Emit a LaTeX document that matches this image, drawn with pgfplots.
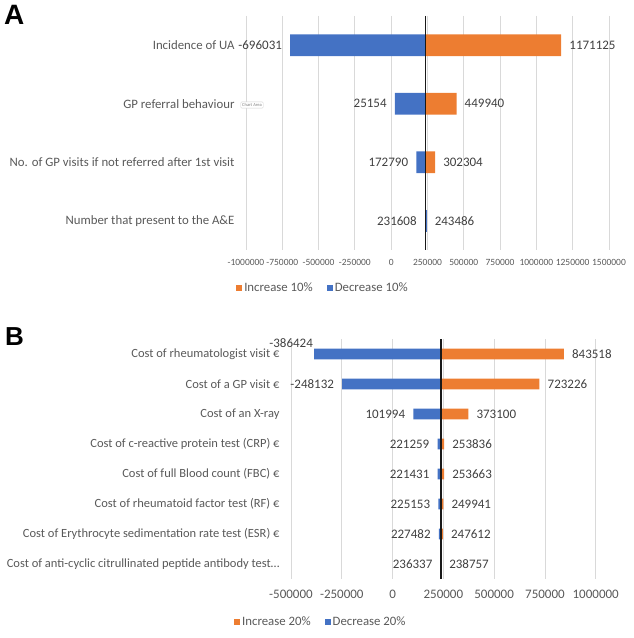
\documentclass[border=0pt]{standalone}
\usepackage{pgfplots}
\pgfplotsset{compat=1.18}
\usepackage{fontspec}
\setmainfont{Carlito}
\newfontfamily\letterfont{Liberation Sans}
\definecolor{incr}{RGB}{237,125,49}
\definecolor{decr}{RGB}{68,114,196}
\definecolor{txt}{RGB}{89,89,89}
\definecolor{lbl}{RGB}{64,64,64}
\definecolor{grd}{RGB}{217,217,217}

% base case of the model: bars start here, the black line sits here
\def\basecase{237547}
\def\shiftby#1#2{\begingroup
  \pgfkeys{/pgf/fpu=true,/pgf/fpu/output format=sci}%
  \pgfmathparse{#1}\global\let\shiftres\pgfmathresult\endgroup
  \let\pgfmathresult\shiftres}

\pgfplotsset{
  tornado/.style={
    scale only axis,
    anchor=north west,
    clip=false,
    y dir=reverse,
    axis line style={draw=none},
    major tick length=0pt,
    tick style={draw=none},
    scaled x ticks=false,
    xmajorgrids,
    grid style={grd, line width=0.8pt},
    /pgf/number format/assume math mode=true,
    yticklabel style={text=txt, xshift=-8pt},
    xticklabel style={text=txt},
    legend style={draw=none, fill=none, legend columns=2, text=txt,
      /tikz/every even column/.append style={column sep=12pt}},
    legend image code/.code={\fill[##1, draw=none] (0pt,-3pt) rectangle (6pt,3pt);},
    x coord trafo/.code={\shiftby{##1-\basecase}{}},
    x coord inv trafo/.code={\shiftby{##1+\basecase}{}},
  },
  rbar/.style={xbar, bar shift=0pt, draw=none, point meta=explicit symbolic,
    nodes near coords, nodes near coords style={anchor=west, xshift=7pt, text=lbl, inner sep=1pt}},
  lbar/.style={xbar, bar shift=0pt, draw=none, point meta=explicit symbolic,
    nodes near coords, nodes near coords style={anchor=east, xshift=-7pt, text=lbl, inner sep=1pt}},
}

\begin{document}
\begin{tikzpicture}
\useasboundingbox (0,0) rectangle (633pt,638pt);

% ---------------- A ----------------
\node[anchor=base west, inner sep=0pt] at (4pt,613pt) {\letterfont\bfseries\fontsize{28}{30}\selectfont A};
\begin{axis}[tornado,
    at={(246pt,622pt)}, width=363pt, height=234pt,
    xmin=-1000000, xmax=1500000, ymin=0.5, ymax=4.5,
    xtick={-1000000,-750000,-500000,-250000,0,250000,500000,750000,1000000,1250000,1500000},
    xticklabels={-1000000,-750000,-500000,-250000,0,250000,500000,750000,1000000,1250000,1500000},
    xticklabel style={font=\fontsize{9.5}{11}\selectfont, yshift=-6pt},
    ytick={1,2,3,4},
    yticklabels={Incidence of UA, GP referral behaviour, No. of GP visits if not referred after 1st visit, Number that present to the A\&E},
    yticklabel style={font=\fontsize{12.8}{14}\selectfont},
    legend style={at={(0.212,-0.162)}, anchor=center, font=\fontsize{12.8}{14}\selectfont},
    every node near coord/.append style={font=\fontsize{13}{15}\selectfont},
  ]
  \addlegendimage{fill=incr}
  \addlegendentry{Increase 10\%}
  \addlegendimage{fill=decr}
  \addlegendentry{Decrease 10\%}

  \addplot[rbar, fill=incr, bar width=0.37, forget plot] coordinates {
    (1171125,1) [1171125]
    (449940,2) [449940]
    (302304,3) [302304]
  };
  \addplot[lbar, fill=incr, bar width=0.37, forget plot] coordinates {
    (231608,4) [231608]
  };
  \addplot[lbar, fill=decr, bar width=0.37, forget plot] coordinates {
    (-696031,1) [-696031]
    (25154,2) [25154]
    (172790,3) [172790]
  };
  \addplot[rbar, fill=decr, bar width=0.37, forget plot] coordinates {
    (243486,4) [243486]
  };
  \addplot[black!90, line width=1.6pt, forget plot] coordinates {(237547,0.5) (237547,4.5)};
\end{axis}
\node[fill=white, draw=gray!35, rounded corners=1pt, inner sep=1.5pt, text=gray,
  font=\fontsize{4.5}{5}\selectfont] at (252pt,533pt) {Chart Area};

% ---------------- B ----------------
\node[anchor=base west, inner sep=0pt] at (5pt,292pt) {\letterfont\bfseries\fontsize{26}{28}\selectfont B};
\begin{axis}[tornado,
    at={(291pt,299pt)}, width=304.7pt, height=240pt,
    xmin=-500000, xmax=1000000, ymin=0.5, ymax=8.5,
    xtick={-500000,-250000,0,250000,500000,750000,1000000},
    xticklabels={-500000,-250000,0,250000,500000,750000,1000000},
    xticklabel style={font=\fontsize{13}{15}\selectfont, yshift=-8pt},
    ytick={1,...,8},
    yticklabels={Cost of rheumatologist visit €, Cost of a GP visit €, Cost of an X-ray\hspace{3pt}, Cost of c-reactive protein test (CRP) €, Cost of full Blood count (FBC) €, Cost of rheumatoid factor test (RF) €, Cost of Erythrocyte sedimentation rate test (ESR) €, Cost of anti-cyclic citrullinated peptide antibody test…\hspace{-5pt}},
    yticklabel style={font=\fontsize{12.5}{14}\selectfont},
    legend style={at={(0.098,-0.179)}, anchor=center, font=\fontsize{12.8}{14}\selectfont},
    every node near coord/.append style={font=\fontsize{13}{15}\selectfont},
  ]
  \addlegendimage{fill=incr}
  \addlegendentry{Increase 20\%}
  \addlegendimage{fill=decr}
  \addlegendentry{Decrease 20\%}

  \addplot[rbar, fill=incr, bar width=0.36, forget plot] coordinates {
    (843518,1) [843518]
    (723226,2) [723226]
    (373100,3) [373100]
    (253836,4) [253836]
    (253663,5) [253663]
    (249941,6) [249941]
    (247612,7) [247612]
  };
  \addplot[lbar, fill=incr, bar width=0.36, forget plot] coordinates {
    (236337,8) [236337]
  };
  \addplot[lbar, fill=decr, bar width=0.36, forget plot] coordinates {
    (-386424,1) []
    (-248132,2) [-248132]
    (101994,3) [101994]
    (221259,4) [221259]
    (221431,5) [221431]
    (225153,6) [225153]
    (227482,7) [227482]
  };
  \addplot[rbar, fill=decr, bar width=0.36, forget plot] coordinates {
    (238757,8) [238757]
  };
  \addplot[black!90, line width=1.6pt, forget plot] coordinates {(237547,0.5) (237547,8.5)};
  \node[anchor=south east, inner sep=1pt, text=lbl, font=\fontsize{13}{15}\selectfont]
    at (axis cs:-386424,0.82) {-386424};
\end{axis}
\end{tikzpicture}
\end{document}
